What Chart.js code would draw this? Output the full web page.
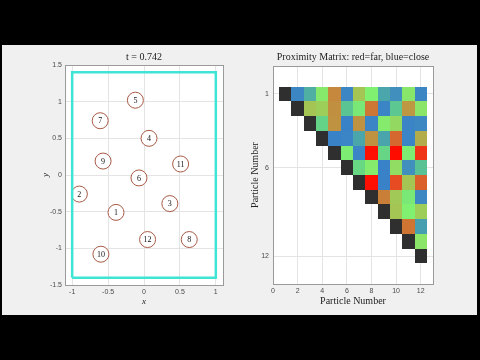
<!DOCTYPE html>
<html>
<head>
<meta charset="utf-8">
<script src="https://cdn.jsdelivr.net/npm/chart.js@4"></script>
<style>
  body { margin: 0; background: #000; width: 480px; height: 360px; overflow: hidden; }
  #panel { position: absolute; left: 2px; top: 45px; width: 475px; height: 270px; background: #f0f0f0; }
  canvas { position: absolute; top: 45px; }
  #left { left: 0; }
  #right { left: 240px; }
</style>
</head>
<body>
<div id="panel"></div>
<canvas id="left" width="240" height="270"></canvas>
<canvas id="right" width="240" height="270"></canvas>
<script>
// ---- particles (left plot) ----
const particleIds = ['1', '2', '3', '4', '5', '6', '7', '8', '9', '10', '11', '12'];
const particleX = [-0.39, -0.90, 0.36, 0.07, -0.12, -0.07, -0.61, 0.63, -0.57, -0.60, 0.51, 0.05];
const particleY = [-0.51, -0.26, -0.39, 0.50, 1.02, -0.04, 0.74, -0.88, 0.19, -1.08, 0.15, -0.88];

// box walls
const boxX = [-1, 1, 1, -1, -1];
const boxY = [-1.4, -1.4, 1.4, 1.4, -1.4];

const leftXTicks = [-1, -0.5, 0, 0.5, 1];
const leftYTicks = [-1.5, -1, -0.5, 0, 0.5, 1, 1.5];

// ---- proximity matrix (right plot) ----
// row i, columns i+1 .. 12 (distance)
const proximityRows = [
  [0.57, 0.76, 1.11, 1.55, 0.57, 1.27, 1.08, 0.72, 0.61, 1.12, 0.57],
  [1.27, 1.23, 1.50, 0.86, 1.04, 1.65, 0.56, 0.87, 1.47, 1.13],
  [0.93, 1.49, 0.55, 1.49, 0.56, 1.10, 1.18, 0.56, 0.58],
  [0.55, 0.56, 0.72, 1.49, 0.71, 1.72, 0.56, 1.38],
  [1.06, 0.56, 2.04, 0.94, 2.15, 1.07, 1.90],
  [0.95, 1.10, 0.55, 1.17, 0.61, 0.85],
  [2.04, 0.55, 1.82, 1.27, 1.75],
  [1.60, 1.25, 1.04, 0.58],
  [1.27, 1.08, 1.23],
  [1.66, 0.68],
  [1.13],
  []
];

const rightXTicks = [0, 2, 4, 6, 8, 10, 12];
const rightYTicks = [1, 6, 12];

// colormap: blue = close, red = far
const cmapStops = [0.55, 0.72, 0.90, 1.08, 1.30, 1.50, 1.70, 1.85, 2.05];
const cmapColors = [
  [58, 130, 200], [74, 166, 170], [95, 205, 140], [128, 240, 112],
  [170, 190, 80], [192, 144, 64], [210, 110, 48], [235, 66, 30], [255, 12, 0]
];

function colorFor(v) {
  if (v === 0) return '#2f2f2f';
  if (v <= cmapStops[0]) return 'rgb(' + cmapColors[0].join(',') + ')';
  for (let k = 1; k < cmapStops.length; k++) {
    if (v <= cmapStops[k]) {
      const t = (v - cmapStops[k - 1]) / (cmapStops[k] - cmapStops[k - 1]);
      const a = cmapColors[k - 1], b = cmapColors[k];
      return 'rgb(' + a.map((c, n) => Math.round(c + (b[n] - c) * t)).join(',') + ')';
    }
  }
  return 'rgb(' + cmapColors[cmapColors.length - 1].join(',') + ')';
}

// cells: diagonal = 0
const cells = [];
proximityRows.forEach((row, i) => {
  cells.push({ x: i + 1, y: i + 1, v: 0 });
  row.forEach((v, k) => cells.push({ x: i + 2 + k, y: i + 1, v: v }));
});

const tickFont = { family: 'Liberation Sans', size: 7 };
const tickColor = '#4a4a4a';
const gridColor = '#e4e4e4';
const plainLabel = v => String(v);

// white axes background + box around the plot area
const axesFrame = {
  id: 'axesFrame',
  beforeDraw(chart) {
    const { ctx, chartArea: a } = chart;
    ctx.save();
    ctx.fillStyle = '#fff';
    ctx.fillRect(a.left, a.top, a.right - a.left, a.bottom - a.top);
    ctx.restore();
  },
  afterDraw(chart) {
    const { ctx, chartArea: a } = chart;
    ctx.save();
    ctx.strokeStyle = '#9a9a9a';
    ctx.lineWidth = 1;
    ctx.strokeRect(Math.round(a.left) + 0.5, Math.round(a.top) + 0.5,
      Math.round(a.right - a.left), Math.round(a.bottom - a.top));
    ctx.restore();
  }
};

// numbers inside the particle circles
const particleLabels = {
  id: 'particleLabels',
  afterDatasetsDraw(chart) {
    const { ctx } = chart;
    const meta = chart.getDatasetMeta(1);
    ctx.save();
    ctx.fillStyle = '#111';
    ctx.font = '8px "Liberation Serif"';
    ctx.textAlign = 'center';
    ctx.textBaseline = 'middle';
    meta.data.forEach((pt, i) => ctx.fillText(particleIds[i], pt.x, pt.y + 0.5));
    ctx.restore();
  }
};

// coloured cells of the matrix
const matrixCells = {
  id: 'matrixCells',
  beforeDatasetsDraw(chart) {
    const { ctx, chartArea: a, scales: { x, y } } = chart;
    ctx.save();
    ctx.beginPath();
    ctx.rect(a.left, a.top, a.right - a.left, a.bottom - a.top);
    ctx.clip();
    chart.data.datasets[0].data.forEach(c => {
      const x0 = Math.round(x.getPixelForValue(c.x - 0.5));
      const x1 = Math.round(x.getPixelForValue(c.x + 0.5));
      const y0 = Math.round(y.getPixelForValue(c.y - 0.5));
      const y1 = Math.round(y.getPixelForValue(c.y + 0.5));
      ctx.fillStyle = colorFor(c.v);
      ctx.fillRect(Math.min(x0, x1), Math.min(y0, y1), Math.abs(x1 - x0), Math.abs(y1 - y0));
    });
    ctx.restore();
  }
};

Chart.defaults.animation = false;
Chart.defaults.events = [];

new Chart(document.getElementById('left'), {
  type: 'scatter',
  data: {
    datasets: [
      {
        type: 'line',
        data: boxX.map((v, i) => ({ x: v, y: boxY[i] })),
        borderColor: '#3ee4d4',
        borderWidth: 2.5,
        pointRadius: 0,
        fill: false,
        tension: 0
      },
      {
        data: particleX.map((v, i) => ({ x: v, y: particleY[i] })),
        pointRadius: 8,
        pointBackgroundColor: '#fff',
        pointBorderColor: '#a85a45',
        pointBorderWidth: 1
      }
    ]
  },
  options: {
    responsive: false,
    layout: { padding: { left: 0, right: 17, top: 0, bottom: 0 } },
    plugins: {
      legend: { display: false },
      tooltip: { enabled: false },
      title: {
        display: true,
        text: 't = 0.742',
        fullSize: false,
        color: '#222',
        font: { family: 'Liberation Serif', size: 10, weight: 'normal' },
        padding: { top: 6, bottom: 2 }
      }
    },
    scales: {
      x: {
        min: -1.1, max: 1.1,
        afterBuildTicks: axis => { axis.ticks = leftXTicks.map(v => ({ value: v })); },
        afterFit: axis => { axis.height = 30; },
        ticks: { font: tickFont, color: tickColor, padding: 3, maxRotation: 0, callback: plainLabel },
        grid: { color: gridColor, drawTicks: false },
        border: { display: false },
        title: {
          display: true, text: 'x', color: '#222',
          font: { family: 'Liberation Serif', size: 9, style: 'italic' },
          padding: { top: 0, bottom: 8 }
        }
      },
      y: {
        min: -1.5, max: 1.5,
        afterBuildTicks: axis => { axis.ticks = leftYTicks.map(v => ({ value: v })); },
        afterFit: axis => { axis.width = 65; },
        ticks: { font: tickFont, color: tickColor, padding: 3, callback: plainLabel },
        grid: { color: gridColor, drawTicks: false },
        border: { display: false },
        title: {
          display: true, text: 'y', color: '#222',
          font: { family: 'Liberation Serif', size: 9, style: 'italic' },
          padding: { top: 40, bottom: 0 }
        }
      }
    }
  },
  plugins: [axesFrame, particleLabels]
});

new Chart(document.getElementById('right'), {
  type: 'scatter',
  data: {
    datasets: [{ data: cells, pointRadius: 0 }]
  },
  options: {
    responsive: false,
    layout: { padding: { left: 0, right: 47, top: 0, bottom: 0 } },
    plugins: {
      legend: { display: false },
      tooltip: { enabled: false },
      title: {
        display: true,
        text: 'Proximity Matrix: red=far, blue=close',
        fullSize: false,
        color: '#222',
        font: { family: 'Liberation Serif', size: 10, weight: 'normal' },
        padding: { top: 6, bottom: 3 }
      }
    },
    scales: {
      x: {
        min: 0, max: 13,
        afterBuildTicks: axis => { axis.ticks = rightXTicks.map(v => ({ value: v })); },
        afterFit: axis => { axis.height = 31; },
        ticks: { font: tickFont, color: tickColor, padding: 3, maxRotation: 0, callback: plainLabel },
        grid: { color: gridColor, drawTicks: false },
        border: { display: false },
        title: {
          display: true, text: 'Particle Number', color: '#222',
          font: { family: 'Liberation Serif', size: 10 },
          padding: { top: 0, bottom: 8 }
        }
      },
      y: {
        min: -0.9, max: 13.9,
        reverse: true,
        afterBuildTicks: axis => { axis.ticks = rightYTicks.map(v => ({ value: v })); },
        afterFit: axis => { axis.width = 33; },
        ticks: { font: tickFont, color: tickColor, padding: 4, callback: plainLabel },
        grid: { color: gridColor, drawTicks: false },
        border: { display: false },
        title: {
          display: true, text: 'Particle Number', color: '#222',
          font: { family: 'Liberation Serif', size: 10 },
          padding: { top: 9, bottom: 0 }
        }
      }
    }
  },
  plugins: [axesFrame, matrixCells]
});
</script>
</body>
</html>
